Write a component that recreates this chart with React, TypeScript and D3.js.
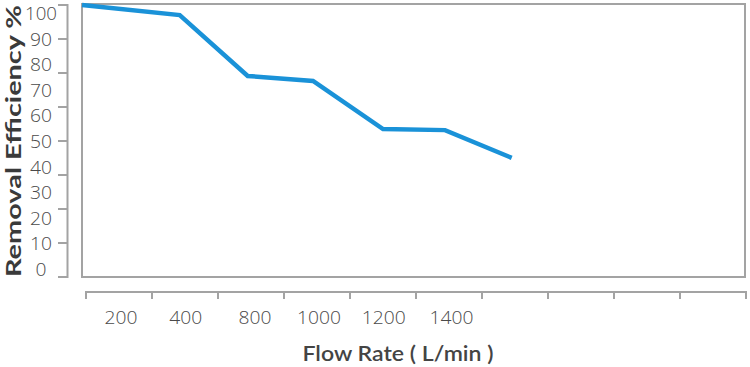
import React from "react";
import * as d3 from "d3";

// ---- data ----
// x positions expressed in units of the bottom axis' tick intervals
const flowPos = [-0.06, 1.42, 2.45, 3.44, 4.5, 5.44, 6.45];
const efficiency = [100, 96.3, 73.9, 72.1, 54.4, 54.0, 43.8];

const xLabels = ["200", "400", "800", "1000", "1200", "1400"];
const xLabelPos = [0.53, 1.51, 2.56, 3.53, 4.51, 5.54];
const xTickUnits = d3.range(0, 11);

const yLabels = [100, 90, 80, 70, 60, 50, 40, 30, 20, 10, 0];
const yTickValues = [0, 12.5, 25, 37.5, 50, 62.5, 75, 87.5, 100];

const W = 750;
const H = 367;

export default function App() {
  const box = { left: 82, right: 745, top: 4, bottom: 277 };
  const x = d3.scaleLinear().domain([0, 10]).range([86, 746]);
  const y = d3.scaleLinear().domain([0, 100]).range([277, 5]);
  const yLab = d3.scaleLinear().domain([0, 100]).range([269, 13]);

  const line = d3
    .line<number>()
    .x((_, i) => x(flowPos[i]))
    .y((d) => y(d));

  const axisColor = "#a3a3a3";
  const textColor = "#4a4a4a";
  const numFont = "'Open Sans', 'Noto Sans', 'DejaVu Sans', sans-serif";
  const titleFont = "Lato, 'Open Sans', 'DejaVu Sans', sans-serif";
  const axisX = 67.5;
  const axisY = 292;

  return (
    <svg
      width={W}
      height={H}
      viewBox={`0 0 ${W} ${H}`}
      style={{ position: "absolute", left: 0, top: 0, background: "#fff" }}
    >
      {/* plot frame */}
      <rect
        x={box.left}
        y={box.top}
        width={box.right - box.left}
        height={box.bottom - box.top}
        fill="none"
        stroke={axisColor}
        strokeWidth={2}
      />

      {/* y axis */}
      <line x1={axisX} x2={axisX} y1={y(100) - 1} y2={y(0) + 1} stroke={axisColor} strokeWidth={2} />
      {yTickValues.map((v) => (
        <line key={v} x1={58} x2={axisX} y1={y(v)} y2={y(v)} stroke={axisColor} strokeWidth={2} />
      ))}
      {yLabels.map((v) => (
        <text
          key={v}
          x={41}
          y={yLab(v) + 7}
          textAnchor="middle"
          fontFamily={numFont}
          fontWeight={300}
          fontSize={19}
          fill={textColor}
          textLength={v === 100 ? 32 : v === 0 ? 11 : 22}
          lengthAdjust="spacingAndGlyphs"
        >
          {v}
        </text>
      ))}

      {/* x axis */}
      <line x1={x(0)} x2={x(10)} y1={axisY} y2={axisY} stroke={axisColor} strokeWidth={2} />
      {xTickUnits.map((u) => (
        <line key={u} x1={x(u)} x2={x(u)} y1={axisY - 1} y2={axisY + 7} stroke={axisColor} strokeWidth={2} />
      ))}
      {xLabels.map((l, i) => (
        <text
          key={l}
          x={x(xLabelPos[i])}
          y={324}
          textAnchor="middle"
          fontFamily={numFont}
          fontWeight={300}
          fontSize={19}
          fill={textColor}
          textLength={l.length * 11}
          lengthAdjust="spacingAndGlyphs"
        >
          {l}
        </text>
      ))}

      {/* titles */}
      <text
        x={398}
        y={361}
        textAnchor="middle"
        fontFamily={titleFont}
        fontWeight={600}
        fontSize={21}
        fill="#444"
        textLength={191}
        lengthAdjust="spacingAndGlyphs"
      >
        Flow Rate ( L/min )
      </text>
      <text
        transform={`translate(21, ${141}) rotate(-90)`}
        textAnchor="middle"
        fontFamily={titleFont}
        fontWeight={700}
        fontSize={20}
        fill="#3a3a3a"
        textLength={272}
        lengthAdjust="spacingAndGlyphs"
      >
        Removal Efficiency %
      </text>

      {/* data line */}
      <path
        d={line(efficiency) || ""}
        fill="none"
        stroke="#1a92d8"
        strokeWidth={4.5}
        strokeLinejoin="miter"
        strokeLinecap="butt"
      />
    </svg>
  );
}
